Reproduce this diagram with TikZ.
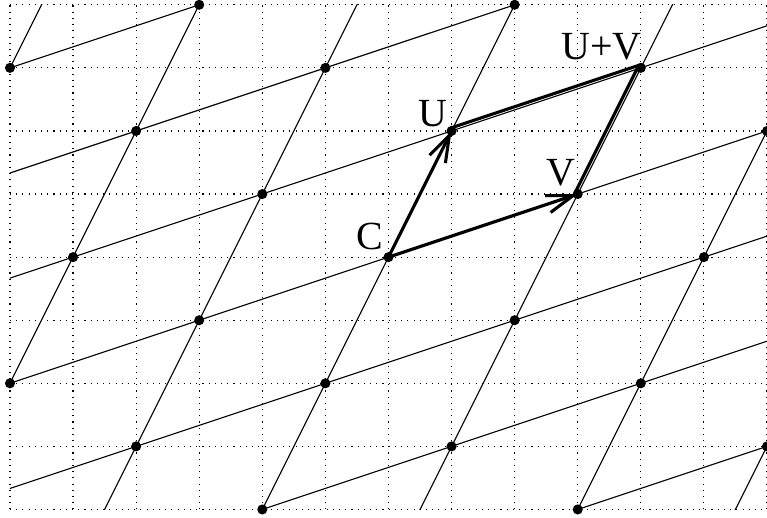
\documentclass[tikz,border=0pt]{standalone}
\usepackage{fontspec}
\setmainfont{Liberation Serif}
\usetikzlibrary{arrows.meta}
\begin{document}
\begin{tikzpicture}[x=1cm,y=1cm,
  gridline/.style={line width=0.5pt, dash pattern=on 0.5pt off 2.3pt},
  latline/.style={line width=0.5pt},
  vec/.style={line width=1.4pt, -{Straight Barb[length=12pt,width=8pt]}},
  side/.style={line width=1.4pt},
  lbl/.style={font=\fontsize{18}{20}\selectfont, inner sep=0pt}]
\useasboundingbox (-0.158,-0.135) rectangle (12,8.076);
\draw[gridline] (0,0) grid (12,8);
\begin{scope}
  \clip (0,0) rectangle (12,8);
  \foreach \c in {-7,-2,3,8,13,18,23}
    \draw[latline] ({(\c-1)/2},-1) -- ({(\c+9)/2},9);
  \foreach \d in {-21,-16,-11,-6,-1,4,9}
    \draw[latline] (-1,{(-1-\d)/3}) -- (13,{(13-\d)/3});
\end{scope}
\coordinate (C) at (6,4);
\coordinate (U) at (7,6);
\coordinate (V) at (9,5);
\coordinate (UV) at (10,7);
\foreach \p in {(4,0),(9,0),(2,1),(7,1),(12,1),(0,2),(5,2),(10,2),(3,3),(8,3),(1,4),(11,4),(4,5),(0,7),(5,7),(3,8),(8,8),(2,6),(12,6)}
  \fill \p circle (0.08);
\draw[vec] (C) -- (U);
\draw[vec] (C) -- (V);
\draw[side, transform canvas={shift={(-0.45pt,1.3pt)}}] (U) -- (UV);
\draw[side, transform canvas={shift={(-1.2pt,0.6pt)}}] (V) -- (UV);
\foreach \q in {C,U,V,UV} \fill (\q) circle (0.08);
\node[lbl, xshift=-0.30cm, yshift=0.33cm] (lC) at (C) {C};
\node[lbl, xshift=-0.29cm, yshift=0.27cm] (lU) at (U) {U};
\node[lbl, xshift=-0.27cm, yshift=0.33cm] (lV) at (V) {V};
\node[lbl, xshift=-0.62cm, yshift=0.33cm] (lUV) at (UV) {U+V};
\end{tikzpicture}
\end{document}
